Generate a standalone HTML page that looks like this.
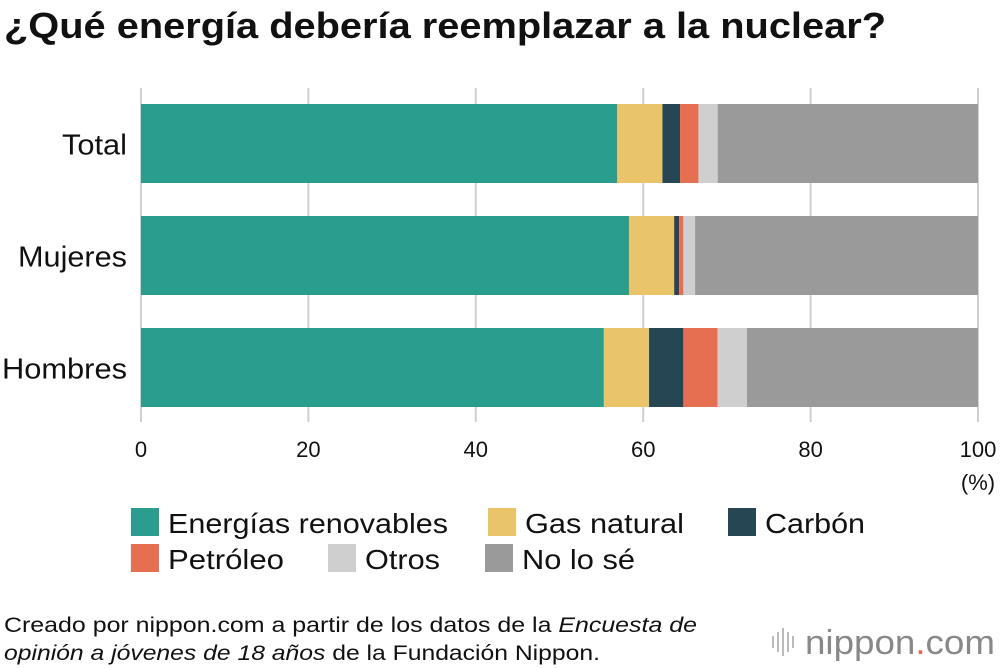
<!DOCTYPE html>
<html><head><meta charset="utf-8"><style>
body{margin:0;background:#fff;font-family:"Liberation Sans",Arial,sans-serif;}
#wrap{position:relative;width:1000px;height:668px;overflow:hidden;}
</style></head><body>
<div id="wrap">
<svg id="chart" width="1000" height="668" xmlns="http://www.w3.org/2000/svg">
<text x="4" y="38" font-size="36" font-weight="bold" fill="#111" textLength="882" lengthAdjust="spacingAndGlyphs">¿Qué energía debería reemplazar a la nuclear?</text>
<g id="grid"></g><g id="bars"></g><g id="ylabels"></g><g id="xticks"></g>
<text x="978" y="490" font-size="22" text-anchor="middle" fill="#111">(%)</text>
<g id="legend"></g>
<text x="4" y="632" font-size="21" fill="#111" textLength="693" lengthAdjust="spacingAndGlyphs">Creado por nippon.com a partir de los datos de la <tspan font-style="italic">Encuesta de</tspan></text>
<text x="4" y="660" font-size="21" fill="#111" textLength="596" lengthAdjust="spacingAndGlyphs"><tspan font-style="italic">opinión a jóvenes de 18 años</tspan> de la Fundación Nippon.</text>
<g>
<rect x="772" y="636" width="2" height="12" fill="#bbb"/><rect x="777" y="632" width="2" height="20" fill="#bbb"/><rect x="782" y="628" width="2" height="28" fill="#bbb"/><rect x="787" y="632" width="2" height="20" fill="#bbb"/><rect x="792" y="636" width="2" height="12" fill="#bbb"/>
<text x="805" y="654" font-size="34" fill="#888" textLength="190" lengthAdjust="spacingAndGlyphs">nippon<tspan fill="#e06a4a">.</tspan>com</text>
</g>
</svg>
</div>
<script>
const categories=["Total","Mujeres","Hombres"];
const seriesNames=["Energías renovables","Gas natural","Carbón","Petróleo","Otros","No lo sé"];
const renovables=[56.9,58.3,55.3];
const gas=[5.4,5.4,5.4];
const carbon=[2.1,0.6,4.1];
const petroleo=[2.2,0.5,4.1];
const otros=[2.3,1.4,3.5];
const nolose=[31.1,33.8,27.6];
const ticks=[0,20,40,60,80,100];
const colors=["#2a9d8f","#e9c46a","#264653","#e76f51","#cfcfcf","#9a9a9a"];
const NS="http://www.w3.org/2000/svg";
const x0=141,x1=978;
const xs=v=>x0+(x1-x0)*v/100;
const yTop=[104,216,328],bh=79;
const yLabW=[65,109,125];
const legW=[280,159,100,116,75,113];
function mk(t,a,p){const e=document.createElementNS(NS,t);for(const k in a)e.setAttribute(k,a[k]);p.appendChild(e);return e;}
const grid=document.getElementById('grid'),bars=document.getElementById('bars'),yl=document.getElementById('ylabels'),xt=document.getElementById('xticks'),lg=document.getElementById('legend');
ticks.forEach(t=>{
 const l=mk('line',{x1:xs(t),x2:xs(t),y1:88,y2:422,stroke:'#d0d0d0','stroke-width':2},grid);
 
 
 const tx=mk('text',{x:xs(t),y:457,'font-size':22,'text-anchor':'middle',fill:'#111'},xt);
 tx.textContent=t;
 
 
});
const series=[renovables,gas,carbon,petroleo,otros,nolose];
categories.forEach((c,i)=>{
 let acc=0;
 series.forEach((s,j)=>{
  const r=mk('rect',{x:xs(acc),y:yTop[i],width:xs(acc+s[i])-xs(acc),height:bh,fill:colors[j]},bars);
  
  
  acc+=s[i];
 });
 const t=mk('text',{x:127-yLabW[i],y:yTop[i]+bh/2+11,'font-size':29,fill:'#111',textLength:yLabW[i],lengthAdjust:'spacingAndGlyphs'},yl);
 t.textContent=c;
 
 
});
const lp=[[131,508],[488,508],[728,508],[131,544],[328,544],[485,544]];
seriesNames.forEach((n,j)=>{
 const g=mk('g',{},lg);
 
 
 mk('rect',{x:lp[j][0],y:lp[j][1],width:28,height:28,fill:colors[j]},g);
 const t=mk('text',{x:lp[j][0]+37,y:lp[j][1]+25,'font-size':28,fill:'#111',textLength:legW[j],lengthAdjust:'spacingAndGlyphs'},g);
 t.textContent=n;
});
</script>
</body></html>
